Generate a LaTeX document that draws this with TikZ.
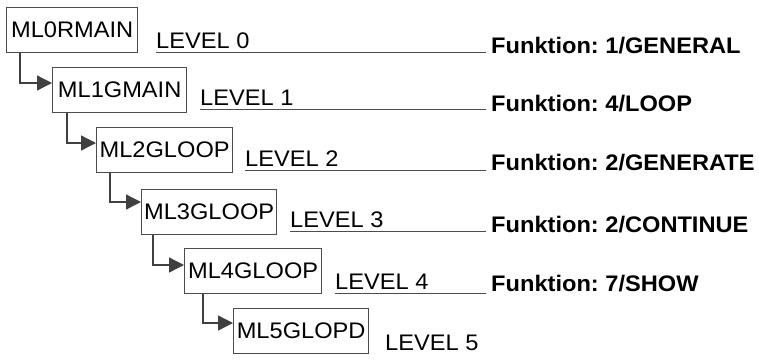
\documentclass[tikz,border=0pt]{standalone}
\usepackage{fontspec}
\setmainfont[FakeStretch=1.05]{Liberation Sans}
\usetikzlibrary{arrows.meta}
\begin{document}
\frenchspacing
\begin{tikzpicture}[x=1pt,y=-1pt,
  modbox/.style={draw=black!70, line width=1.3pt, anchor=north west, inner sep=0pt,
    minimum height=45pt, font=\fontsize{22.5}{26}\selectfont},
  link/.style={draw=black!75, line width=1.3pt, -{Triangle[length=15pt,width=15pt]}},
  lvl/.style={anchor=base west, inner sep=0pt, font=\fontsize{22.5}{26}\selectfont},
  fn/.style={anchor=base west, inner sep=0pt, font=\fontsize{22.5}{26}\selectfont\bfseries},
  rule/.style={draw=black!70, line width=1.3pt, shorten >=5pt}]
\useasboundingbox (0,0) rectangle (759,360);

% module boxes
\node[modbox, minimum width=131pt] (m0) at (6,7)     {ML0RMAIN};
\node[modbox, minimum width=134pt] (m1) at (52,67)   {ML1GMAIN};
\node[modbox, minimum width=136pt] (m2) at (96,127)  {ML2GLOOP};
\node[modbox, minimum width=135pt] (m3) at (141,189) {ML3GLOOP};
\node[modbox, minimum width=137pt] (m4) at (184,248) {ML4GLOOP};
\node[modbox, minimum width=135pt] (m5) at (233,308) {ML5GLOPD};

% call links
\draw[link] ([xshift=14pt]m0.south west) |- ([yshift=-16pt]m1.north west);
\draw[link] ([xshift=15pt]m1.south west) |- ([yshift=-16pt]m2.north west);
\draw[link] ([xshift=14pt]m2.south west) |- ([yshift=-13pt]m3.north west);
\draw[link] ([xshift=12pt]m3.south west) |- ([yshift=-17pt]m4.north west);
\draw[link] ([xshift=19pt]m4.south west) |- ([yshift=-15pt]m5.north west);

% level labels
\node[lvl] (l0) at (156,48)  {LEVEL 0};
\node[lvl] (l1) at (200,105) {LEVEL 1};
\node[lvl] (l2) at (245,166) {LEVEL 2};
\node[lvl] (l3) at (290,227) {LEVEL 3};
\node[lvl] (l4) at (335,289) {LEVEL 4};
\node[lvl] (l5) at (385,350) {LEVEL 5};

% function labels
\node[fn] (f0) at (491,53)  {Funktion: 1/GENERAL};
\node[fn] (f1) at (491,111) {Funktion: 4/LOOP};
\node[fn] (f2) at (491,170) {Funktion: 2/GENERATE};
\node[fn] (f3) at (491,232) {Funktion: 2/CONTINUE};
\node[fn] (f4) at (491,291) {Funktion: 7/SHOW};

% underlines running from each level to its function
\foreach \i in {0,...,4}{
  \coordinate (u\i) at ([yshift=-4.5pt]l\i.base west);
  \draw[rule] (u\i) -- (u\i -| f\i.west);
}
\end{tikzpicture}
\end{document}
